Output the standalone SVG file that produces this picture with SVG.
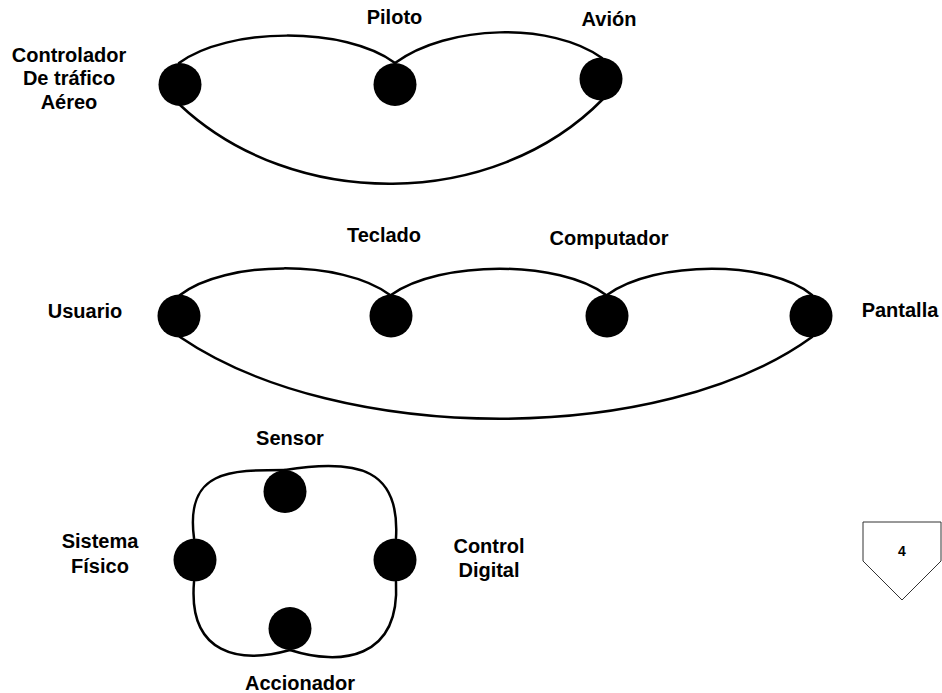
<svg xmlns="http://www.w3.org/2000/svg" width="942" height="693" viewBox="0 0 942 693">
  <style>
    .node { fill: #000; }
    .link { fill: none; stroke: #000; stroke-width: 2.5; stroke-linecap: round; }
    .label { font-family: "Liberation Sans", Arial, sans-serif; font-weight: bold; font-size: 20px; fill: #000; text-anchor: middle; }
    .page { fill: #fff; stroke: #333; stroke-width: 1; }
    .pagenum { font-family: "Liberation Sans", Arial, sans-serif; font-weight: bold; font-size: 14px; fill: #000; text-anchor: middle; }
  </style>

  <rect width="942" height="693" fill="#fff"/>

  <!-- connectors -->
  <g id="connectors">
    <!-- chain 1: controller / pilot / aircraft -->
    <path class="link" d="M179,63 C228,27 345,26 395,63"/>
    <path class="link" d="M395,63 C448,24 552,22 602,58"/>
    <path class="link" d="M180,105 C293,211 493,211 603,99"/>
    <!-- chain 2: user / keyboard / computer / display -->
    <path class="link" d="M180,295 C225,260 342,259 390,295"/>
    <path class="link" d="M391,295 C440,260 560,260 606,295"/>
    <path class="link" d="M607,295 C655,260 770,260 812,295"/>
    <path class="link" d="M180,337 C340,446 662,446 812,337"/>
    <!-- control loop -->
    <path class="link" d="M285,470 C360,458 400,470 396,538"/>
    <path class="link" d="M396,582 C400,660 340,666 290,650"/>
    <path class="link" d="M290,650 C240,664 188,655 194,582"/>
    <path class="link" d="M194,538 C185,470 230,470 285,470"/>
  </g>

  <!-- chain 1 nodes -->
  <g id="controlador">
    <circle class="node" cx="180" cy="84.5" r="21.5"/>
    <text class="label" x="69" y="62">Controlador</text>
    <text class="label" x="69" y="85">De tráfico</text>
    <text class="label" x="69" y="109">Aéreo</text>
  </g>
  <g id="piloto">
    <circle class="node" cx="395" cy="84.5" r="21.5"/>
    <text class="label" x="394.5" y="24">Piloto</text>
  </g>
  <g id="avion">
    <circle class="node" cx="601" cy="79" r="21.5"/>
    <text class="label" x="609" y="26">Avión</text>
  </g>

  <!-- chain 2 nodes -->
  <g id="usuario">
    <circle class="node" cx="179" cy="316" r="21.5"/>
    <text class="label" x="85" y="318">Usuario</text>
  </g>
  <g id="teclado">
    <circle class="node" cx="391" cy="316" r="21.5"/>
    <text class="label" x="384" y="242">Teclado</text>
  </g>
  <g id="computador">
    <circle class="node" cx="607" cy="316" r="21.5"/>
    <text class="label" x="609" y="245">Computador</text>
  </g>
  <g id="pantalla">
    <circle class="node" cx="811" cy="316" r="21.5"/>
    <text class="label" x="900" y="317">Pantalla</text>
  </g>

  <!-- control loop nodes -->
  <g id="sensor">
    <circle class="node" cx="285" cy="491.5" r="21.5"/>
    <text class="label" x="290" y="445">Sensor</text>
  </g>
  <g id="sistema-fisico">
    <circle class="node" cx="195" cy="560" r="21.5"/>
    <text class="label" x="100" y="548">Sistema</text>
    <text class="label" x="100" y="573">Físico</text>
  </g>
  <g id="control-digital">
    <circle class="node" cx="395" cy="560" r="21.5"/>
    <text class="label" x="489" y="553">Control</text>
    <text class="label" x="489" y="577">Digital</text>
  </g>
  <g id="accionador">
    <circle class="node" cx="290" cy="628.5" r="21.5"/>
    <text class="label" x="300" y="690">Accionador</text>
  </g>

  <!-- page marker -->
  <g id="page-marker">
    <polygon class="page" points="863,522 941,522 941,561 902,600 863,561"/>
    <text class="pagenum" x="902" y="556">4</text>
  </g>
</svg>
